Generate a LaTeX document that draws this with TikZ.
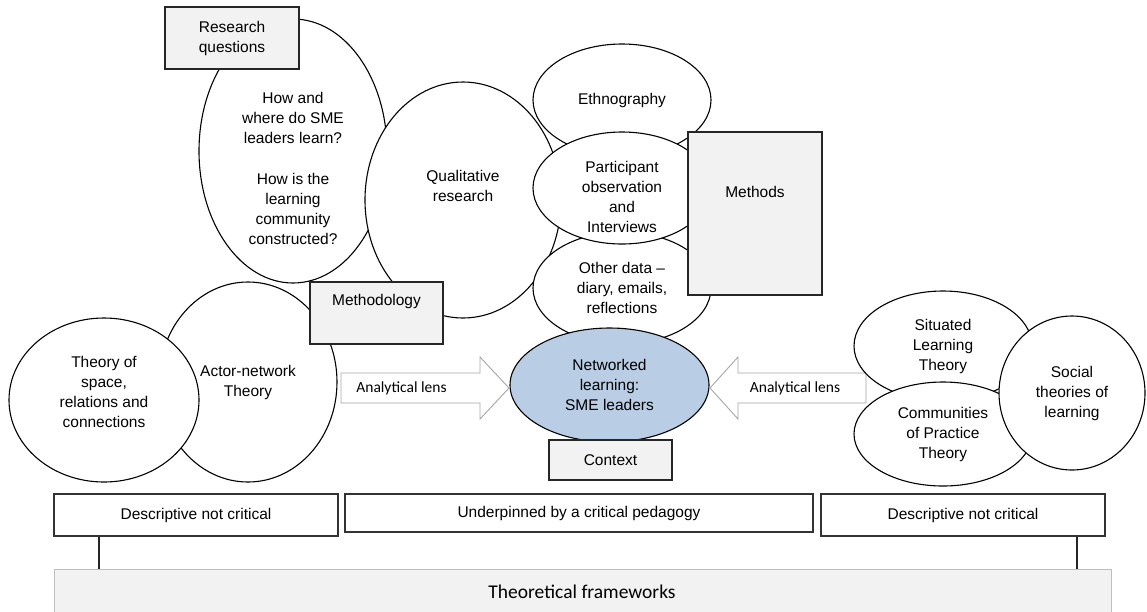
\documentclass[tikz,border=0pt]{standalone}
\usepackage{fontspec}
\setmainfont{Liberation Sans}
\newfontfamily\calibfont{Carlito}
\usetikzlibrary{shapes.geometric}
\definecolor{boxgray}{HTML}{F2F2F2}
\definecolor{netblue}{HTML}{B9CDE5}
\definecolor{lensgray}{HTML}{A6A6A6}
\definecolor{framegray}{HTML}{BFBFBF}

\begin{document}
\begin{tikzpicture}[x=1pt, y=-1pt,
      font=\fontsize{15.5}{20}\selectfont,
      bubble/.style={draw, ellipse, fill=white, line width=1.1pt, inner sep=0pt, align=center},
      greybox/.style={draw=black!85, fill=boxgray, line width=1.1pt, inner sep=0pt, align=center},
      plainbox/.style={draw=black!80, fill=white, line width=1.5pt, inner sep=0pt},
      lens/.style={draw=lensgray, fill=white, line width=0.9pt},
      lenstext/.style={font=\calibfont\fontsize{15.5}{19}\selectfont},
      link/.style={line width=2pt, draw=black!85}]
      \useasboundingbox (0,0) rectangle (1147,611);

      % research questions
      \node[bubble, minimum width=188, minimum height=264] (rq) at (293,151) {};
      \node[align=center] (rqtext) at ([yshift=-17]rq.center) {How and\\where do SME\\leaders learn?\\[21pt]How is the\\learning\\community\\constructed?};
      \node[greybox, minimum width=134, minimum height=62] (rqbox) at (232,38) {Research\\questions};

      % methodology and methods
      \node[bubble, minimum width=196, minimum height=236] (qual) at (463,200) {};
      \node[align=center] (qualtext) at ([yshift=14]qual.center) {Qualitative\\research};
      \node[bubble, minimum width=178, minimum height=112] (ethno) at (622,100) {Ethnography};
      \node[bubble, minimum width=178, minimum height=112] (other) at (622,288) {Other data –\\diary, emails,\\reflections};
      \node[bubble, minimum width=178, minimum height=112] (part) at (622,188) {};
      \node[align=center] (parttext) at ([yshift=-9]part.center) {Participant\\observation\\and\\Interviews};
      \node[greybox, minimum width=134, minimum height=163] (methods) at (755,213.5) {};
      \node (methodstext) at ([yshift=21.5]methods.center) {Methods};

      % left theories
      \node[bubble, minimum width=178, minimum height=200] (ant) at (248,382) {Actor-network\\Theory};
      \node[bubble, minimum width=190, minimum height=164] (space) at (104,400) {};
      \node[align=center] (spacetext) at ([yshift=8]space.center) {Theory of\\space,\\relations and\\connections};
      \node[greybox, minimum width=133, minimum height=62] (mthdlgy) at (376.5,313) {};
      \node (mthdlgytext) at ([yshift=12]mthdlgy.center) {Methodology};

      % context
      \node[bubble, fill=netblue, minimum width=199, minimum height=114] (net) at (609.5,385) {Networked\\learning:\\SME leaders};
      \node[greybox, minimum width=123, minimum height=40] (context) at (610.5,460) {Context};

      % analytical lenses
      \draw[lens] (341,373) -- (480,373) -- (480,357) -- (509,388) -- (480,419) -- (480,403) -- (341,403) -- cycle;
      \node[lenstext] (lensL) at (401.5,388) {Analytical lens};
      \draw[lens] (866,373) -- (738,373) -- (738,357) -- (710,388) -- (738,419) -- (738,403) -- (866,403) -- cycle;
      \node[lenstext] (lensR) at (795,388) {Analytical lens};

      % right theories
      \node[bubble, minimum width=178, minimum height=110] (situated) at (943,346) {Situated\\Learning\\Theory};
      \node[bubble, minimum width=178, minimum height=104] (cop) at (943,434) {Communities\\of Practice\\Theory};
      \node[bubble, minimum width=146, minimum height=154] (social) at (1072,393) {Social\\theories of\\learning};

      % frameworks
      \node[plainbox, minimum width=284, minimum height=42] (descL) at (196,515) {Descriptive not critical};
      \node[plainbox, minimum width=468, minimum height=38] (pedagogy) at (579,513) {Underpinned by a critical pedagogy};
      \node[plainbox, minimum width=284, minimum height=42] (descR) at (963,515) {Descriptive not critical};
      \node[draw=framegray, fill=boxgray, line width=1pt, inner sep=0pt, minimum width=1057, minimum height=60, anchor=north west] (frame) at (54,569) {};
      \node[font=\calibfont\fontsize{19.5}{24}\selectfont] (frametext) at (582,592) {Theoretical frameworks};

      \coordinate (lx) at (99,0);
      \coordinate (rx) at (1077,0);
      \draw[link] (descL.south -| lx) -- (frame.north -| lx);
      \draw[link] (descR.south -| rx) -- (frame.north -| rx);

    \end{tikzpicture}
\end{document}
